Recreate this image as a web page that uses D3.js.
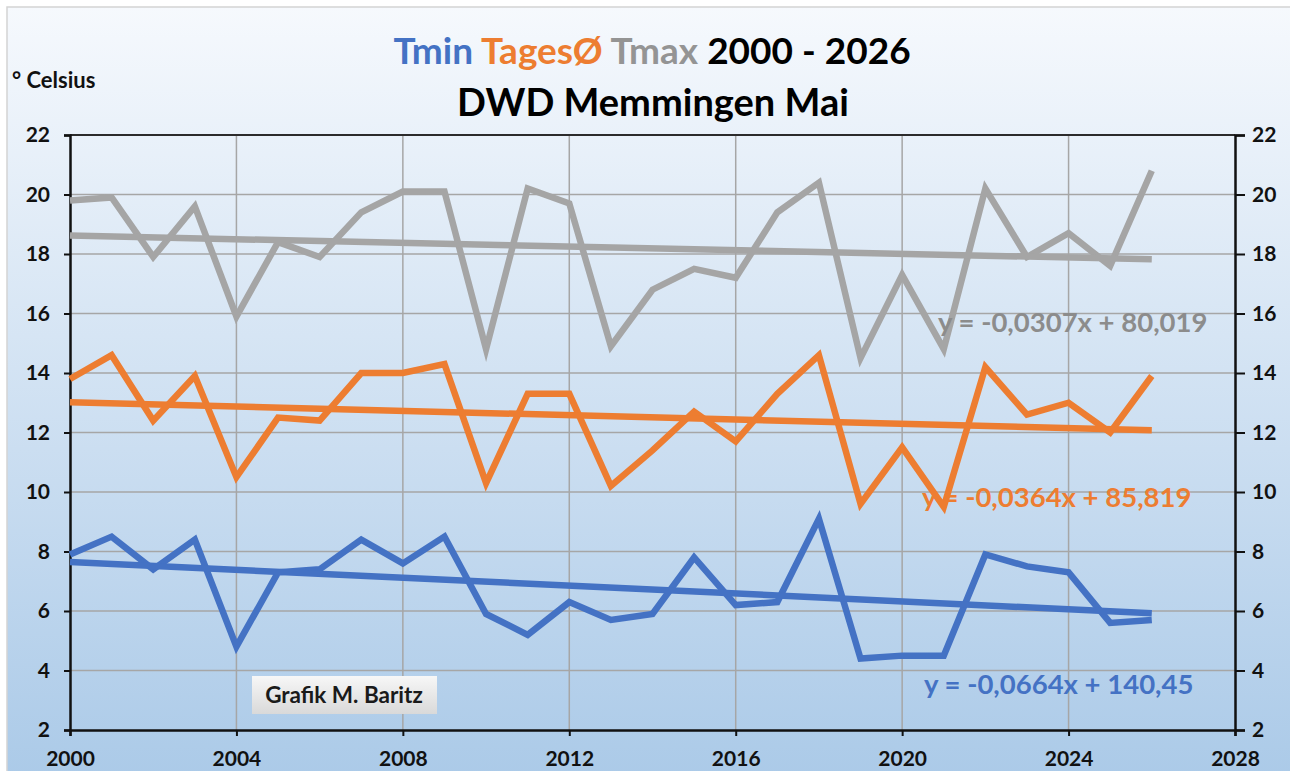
<!DOCTYPE html>
<html>
<head>
<meta charset="utf-8">
<script src="https://cdn.jsdelivr.net/npm/d3@7"></script>
<style>
  body { margin: 0; background: #fff; }
  text { font-family: Lato, "Noto Sans", sans-serif; font-weight: bold; }
</style>
</head>
<body>
<svg width="1290" height="771"></svg>
<script>
var years = d3.range(2000, 2027);
var tmin = [7.9, 8.5, 7.4, 8.4, 4.8, 7.3, 7.4, 8.4, 7.6, 8.5, 5.9, 5.2, 6.3, 5.7, 5.9, 7.8, 6.2, 6.3, 9.1, 4.4, 4.5, 4.5, 7.9, 7.5, 7.3, 5.6, 5.7];
var tavg = [13.8, 14.6, 12.4, 13.9, 10.5, 12.5, 12.4, 14.0, 14.0, 14.3, 10.3, 13.3, 13.3, 10.2, 11.4, 12.7, 11.7, 13.3, 14.6, 9.6, 11.5, 9.5, 14.2, 12.6, 13.0, 12.0, 13.9];
var tmax = [19.8, 19.9, 17.9, 19.6, 15.9, 18.4, 17.9, 19.4, 20.1, 20.1, 14.8, 20.2, 19.7, 14.9, 16.8, 17.5, 17.2, 19.4, 20.4, 14.5, 17.3, 14.8, 20.2, 17.9, 18.7, 17.6, 20.8];
var slopes = [-0.0664, -0.0364, -0.0307];
var intercepts = [140.45, 85.819, 80.019];
var yTicks = [2, 4, 6, 8, 10, 12, 14, 16, 18, 20, 22];
var xTicks = [2000, 2004, 2008, 2012, 2016, 2020, 2024, 2028];

var colors = ["#4472C4", "#ED7D31", "#A5A5A5"];
var eqColors = ["#4472C4", "#ED7D31", "#8c8c8c"];
var eqPos = [[924, 694], [922, 507], [938, 332]];

var svg = d3.select("svg");

var defs = svg.append("defs");
var grad = defs.append("linearGradient").attr("id", "bg")
    .attr("x1", 0).attr("y1", 0).attr("x2", 0).attr("y2", 1);
grad.append("stop").attr("offset", "0%").attr("stop-color", "#f6f9fd");
grad.append("stop").attr("offset", "100%").attr("stop-color", "#abcae8");
var boxGrad = defs.append("linearGradient").attr("id", "box")
    .attr("x1", 0).attr("y1", 0).attr("x2", 0).attr("y2", 1);
boxGrad.append("stop").attr("offset", "0%").attr("stop-color", "#f7f7f7");
boxGrad.append("stop").attr("offset", "100%").attr("stop-color", "#d9d9d9");

svg.append("rect")
    .attr("x", 7).attr("y", 7).attr("width", 1290).attr("height", 771)
    .attr("fill", "url(#bg)")
    .attr("stroke", "#d4d4d4").attr("stroke-width", 1.5);

var x = d3.scaleLinear().domain([2000, 2028]).range([70, 1235]);
var y = d3.scaleLinear().domain([2, 22]).range([730, 135]);

// gridlines
svg.append("g").selectAll("line")
    .data(yTicks.slice(1, -1))
    .enter().append("line")
    .attr("x1", x(2000)).attr("x2", x(2028))
    .attr("y1", function(d) { return y(d); })
    .attr("y2", function(d) { return y(d); })
    .attr("stroke", "#a6a6a6").attr("stroke-width", 1.5);

svg.append("g").selectAll("line")
    .data(xTicks.slice(1, -1))
    .enter().append("line")
    .attr("y1", y(2)).attr("y2", y(22))
    .attr("x1", function(d) { return x(d); })
    .attr("x2", function(d) { return x(d); })
    .attr("stroke", "#a6a6a6").attr("stroke-width", 1.5);

// top border of plot
svg.append("line")
    .attr("x1", x(2000)).attr("x2", x(2028))
    .attr("y1", y(22)).attr("y2", y(22))
    .attr("stroke", "#2b2b2b").attr("stroke-width", 2);

// axes
var left = svg.append("g")
    .attr("transform", "translate(" + x(2000) + ",0)")
    .call(d3.axisLeft(y).tickValues(yTicks).tickSize(6).tickPadding(14));
var right = svg.append("g")
    .attr("transform", "translate(" + x(2028) + ",0)")
    .call(d3.axisRight(y).tickValues(yTicks).tickSize(10).tickPadding(7));
var bottom = svg.append("g")
    .attr("transform", "translate(0," + y(2) + ")")
    .call(d3.axisBottom(x).tickValues(xTicks).tickFormat(d3.format("d")).tickSize(6).tickPadding(15));

[left, right, bottom].forEach(function(a) {
    a.select(".domain").attr("stroke", "#111").attr("stroke-width", 2.5);
    a.selectAll(".tick line").attr("stroke", "#111").attr("stroke-width", 2);
    a.selectAll(".tick text")
        .attr("fill", "#111")
        .style("font-size", "21px")
        .style("font-family", "Lato, sans-serif")
        .style("font-weight", "bold");
});

// data lines
var line = d3.line()
    .x(function(d, i) { return x(years[i]); })
    .y(function(d) { return y(d); });

var series = [tmin, tavg, tmax];
series.forEach(function(s, k) {
    svg.append("path")
        .datum(s)
        .attr("d", line)
        .attr("fill", "none")
        .attr("stroke", colors[k])
        .attr("stroke-width", 6.5)
        .attr("stroke-linejoin", "miter");
});

// trend lines
series.forEach(function(s, k) {
    var ends = [years[0], years[years.length - 1]];
    svg.append("line")
        .attr("x1", x(ends[0])).attr("x2", x(ends[1]))
        .attr("y1", y(slopes[k] * ends[0] + intercepts[k]))
        .attr("y2", y(slopes[k] * ends[1] + intercepts[k]))
        .attr("stroke", colors[k])
        .attr("stroke-width", 6.5);
});

// equations
var fmt = function(v, n) { return v.toFixed(n).replace(".", ","); };
series.forEach(function(s, k) {
    var dec = String(intercepts[k]).split(".")[1].length;
    svg.append("text")
        .attr("x", eqPos[k][0]).attr("y", eqPos[k][1])
        .attr("fill", eqColors[k])
        .style("font-size", "27.5px")
        .text("y = " + fmt(slopes[k], 4) + "x + " + fmt(intercepts[k], dec));
});

// credit box
svg.append("rect")
    .attr("x", 252).attr("y", 676).attr("width", 185).attr("height", 38)
    .attr("fill", "url(#box)");
svg.append("text")
    .attr("x", 344).attr("y", 703)
    .attr("text-anchor", "middle")
    .attr("fill", "#1a1a1a")
    .style("font-size", "22.5px")
    .text("Grafik M. Baritz");

// titles
var t1 = svg.append("text")
    .attr("x", 652).attr("y", 64)
    .attr("text-anchor", "middle")
    .style("font-size", "37px");
t1.append("tspan").attr("fill", "#4472C4").text("Tmin ");
t1.append("tspan").attr("fill", "#ED7D31").text("TagesØ ");
t1.append("tspan").attr("fill", "#949494").text("Tmax ");
t1.append("tspan").attr("fill", "#000").text("2000 - 2026");

svg.append("text")
    .attr("x", 653).attr("y", 116)
    .attr("text-anchor", "middle")
    .attr("fill", "#000")
    .style("font-size", "38px")
    .text("DWD Memmingen Mai");

svg.append("text")
    .attr("x", 12).attr("y", 88)
    .attr("fill", "#111")
    .style("font-size", "22px")
    .text("° Celsius");
</script>
</body>
</html>
